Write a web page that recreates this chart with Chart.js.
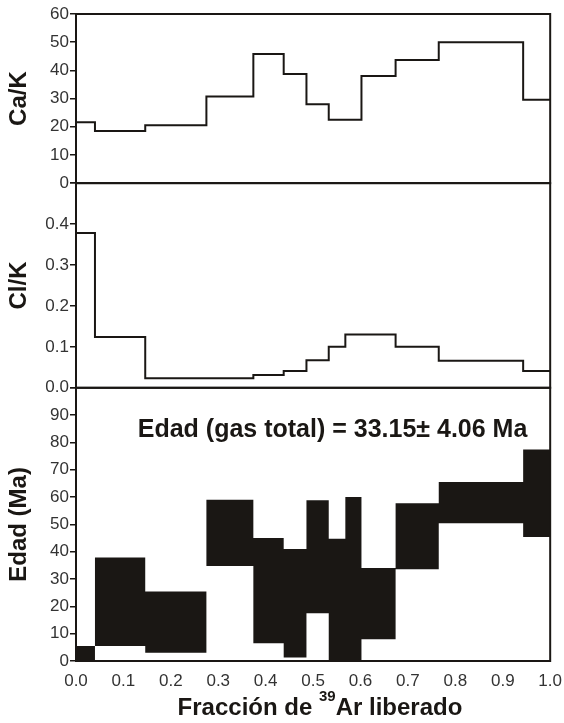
<!DOCTYPE html>
<html lang="es">
<head>
  <meta charset="UTF-8" />
  <title>Espectro de edades 40Ar/39Ar</title>
  <script src="https://cdn.jsdelivr.net/npm/chart.js"></script>
  <style>
    body {
      margin: 0;
      padding: 0;
      background: #ffffff;
    }
    .wrap {
      width: 564px;
      height: 723px;
    }
  </style>
</head>
<body>
  <div class="wrap"><canvas id="spectrum"></canvas></div>

  <script>
    // step start positions (fraction of 39Ar released); last step ends at 1.0
    const fracStart = [0, 0.04, 0.146, 0.275, 0.374, 0.438, 0.486, 0.533, 0.568, 0.602, 0.674, 0.765, 0.943];
    const fracEnd = 1.0;

    // Ca/K per step
    const caK = [21.6, 18.5, 20.5, 30.7, 45.8, 38.7, 28, 22.5, 22.5, 38, 43.7, 50, 29.6];
    // Cl/K per step
    const clK = [0.378, 0.124, 0.023, 0.023, 0.031, 0.041, 0.067, 0.1, 0.13, 0.13, 0.1, 0.066, 0.041];
    // age boxes (Ma): upper and lower edge of each step
    const ageHi = [5.5, 37.9, 25.4, 59, 45, 41, 58.8, 44.7, 60, 34, 57.7, 65.5, 77.4];
    const ageLo = [0, 5.5, 3, 34.8, 6.5, 1.3, 17.5, 0, 0, 8, 33.6, 50.4, 45.4];

    const totalGasText = 'Edad (gas total) = 33.15\u00B1 4.06 Ma';

    const ink = '#1a1714';
    const tickInk = '#333333';
    const fontName = "'Liberation Sans', Arial, sans-serif";

    // turn a per-step list into points for a stepped line
    function stepPoints(vals) {
      const pts = fracStart.map((x, i) => ({ x: x, y: vals[i] }));
      pts.push({ x: fracEnd, y: vals[vals.length - 1] });
      return pts;
    }

    function yScale(min, max, step, weight, title, fmt) {
      return {
        type: 'linear',
        position: 'left',
        stack: 'panels',
        stackWeight: weight,
        min: min,
        max: max,
        afterFit: (s) => { s.width = 76; },
        grid: { display: true, drawOnChartArea: false, drawTicks: true, tickLength: 6, color: ink, lineWidth: 1.5 },
        border: { display: false },
        ticks: {
          stepSize: step,
          autoSkip: false,
          padding: 1,
          color: tickInk,
          font: { family: fontName, size: 17 },
          callback: fmt
        },
        title: {
          display: true,
          text: title,
          color: ink,
          padding: { top: 5, bottom: 0 },
          font: { family: fontName, size: 24, weight: 'bold' }
        }
      };
    }

    // frames around each panel, the total gas age and the x title
    const decorations = {
      id: 'decorations',
      afterDatasetsDraw(chart) {
        const ctx = chart.ctx;
        const area = chart.chartArea;
        ctx.save();
        ctx.strokeStyle = ink;
        ctx.lineWidth = 2;
        ['yCa', 'yCl', 'yAge'].forEach((id) => {
          const s = chart.scales[id];
          ctx.strokeRect(area.left, s.top, area.right - area.left, s.bottom - s.top);
        });
        ctx.restore();
      },
      afterDraw(chart) {
        const ctx = chart.ctx;
        const xs = chart.scales.x;
        const ya = chart.scales.yAge;
        ctx.save();
        ctx.fillStyle = ink;
        ctx.textBaseline = 'middle';
        ctx.textAlign = 'center';
        ctx.font = 'bold 25px ' + fontName;
        ctx.fillText(totalGasText, xs.getPixelForValue(0.541), ya.getPixelForValue(84.6));

        // "Fracción de 39Ar liberado" with superscript mass number
        const big = 'bold 24px ' + fontName;
        const small = 'bold 15px ' + fontName;
        const p1 = 'Fracci\u00F3n de ';
        const p2 = '39';
        const p3 = 'Ar liberado';
        ctx.font = big;
        const w1 = ctx.measureText(p1).width;
        const w3 = ctx.measureText(p3).width;
        ctx.font = small;
        const w2 = ctx.measureText(p2).width;
        const cx = 320;
        const cy = 708;
        let x = cx - (w1 + w2 + w3) / 2;
        ctx.textAlign = 'left';
        ctx.font = big;
        ctx.fillText(p1, x, cy);
        x += w1;
        ctx.font = small;
        ctx.fillText(p2, x, cy - 11);
        x += w2;
        ctx.font = big;
        ctx.fillText(p3, x, cy);
        ctx.restore();
      }
    };

    new Chart(document.getElementById('spectrum').getContext('2d'), {
      type: 'line',
      data: {
        datasets: [
          {
            label: 'Ca/K',
            data: stepPoints(caK),
            yAxisID: 'yCa',
            stepped: 'before',
            borderColor: ink,
            borderWidth: 2,
            pointRadius: 0,
            fill: false
          },
          {
            label: 'Cl/K',
            data: stepPoints(clK),
            yAxisID: 'yCl',
            stepped: 'before',
            borderColor: ink,
            borderWidth: 2,
            pointRadius: 0,
            fill: false
          },
          {
            label: 'Edad max',
            data: stepPoints(ageHi),
            yAxisID: 'yAge',
            stepped: 'before',
            borderColor: 'transparent',
            borderWidth: 0,
            pointRadius: 0,
            backgroundColor: ink,
            fill: '+1'
          },
          {
            label: 'Edad min',
            data: stepPoints(ageLo),
            yAxisID: 'yAge',
            stepped: 'before',
            borderColor: 'transparent',
            borderWidth: 0,
            pointRadius: 0,
            fill: false
          }
        ]
      },
      options: {
        responsive: true,
        maintainAspectRatio: false,
        animation: false,
        devicePixelRatio: 1,
        layout: { padding: { top: 14, right: 13, bottom: 0, left: 0 } },
        plugins: {
          legend: { display: false },
          tooltip: { enabled: false }
        },
        scales: {
          x: {
            type: 'linear',
            min: 0,
            max: 1,
            afterFit: (s) => { s.height = 62; },
            grid: { display: false },
            border: { display: false },
            ticks: {
              stepSize: 0.1,
              autoSkip: false,
              maxRotation: 0,
              padding: 2,
              color: tickInk,
              font: { family: fontName, size: 17 },
              callback: (v) => v.toFixed(1)
            }
          },
          // declared bottom to top: later stacked axes are placed higher
          yAge: yScale(0, 100, 10, 273, 'Edad (Ma)', (v) => (v >= 100 ? '' : v)),
          yCl: yScale(0, 0.5, 0.1, 204.5, 'Cl/K', (v) => (v >= 0.5 ? '' : v.toFixed(1))),
          yCa: yScale(0, 60, 10, 169, 'Ca/K', (v) => v)
        }
      },
      plugins: [decorations]
    });
  </script>
</body>
</html>
